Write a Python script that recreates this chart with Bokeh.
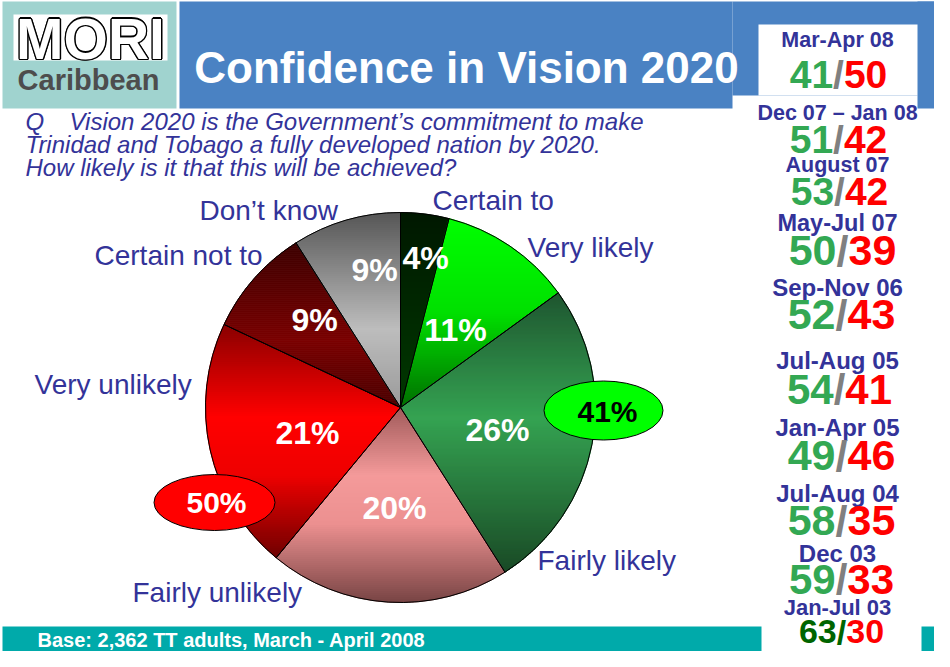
import numpy as np
from bokeh.plotting import figure
from bokeh.models import Range1d, ColumnDataSource
from bokeh.core.properties import value
from bokeh.embed import file_html
from bokeh.resources import INLINE

# ---------------- data ----------------
categories = ["Certain to", "Very likely", "Fairly likely", "Fairly unlikely",
              "Very unlikely", "Certain not to", "Don\u2019t know"]
shares = [4, 11, 26, 20, 21, 9, 9]
likely_total = 41
unlikely_total = 50

periods = ["Mar-Apr 08", "Dec 07 \u2013 Jan 08", "August 07", "May-Jul 07", "Sep-Nov 06",
           "Jul-Aug 05", "Jan-Apr 05", "Jul-Aug 04", "Dec 03", "Jan-Jul 03"]
likely_hist = [41, 51, 53, 50, 52, 54, 49, 58, 59, 63]
unlikely_hist = [50, 42, 42, 39, 43, 41, 46, 35, 33, 30]

title = "Confidence in Vision 2020"
question = ["Vision 2020 is the Government\u2019s commitment to make",
            "Trinidad and Tobago a fully developed nation by 2020.",
            "How likely is it that this will be achieved?"]
base_note = "Base: 2,362 TT adults, March - April 2008"

# ---------------- layout helpers ----------------
W, H = 934, 651
def Y(r):
    return 667 - r

FONT = value("Liberation Sans")
BLUE_TXT = "#333399"

p = figure(width=W, height=H, x_range=Range1d(8, 942), y_range=Range1d(8, 659),
           output_backend="svg", toolbar_location=None, min_border=0,
           x_axis_type=None, y_axis_type=None)
p.grid.visible = False
p.outline_line_color = None
p.background_fill_color = "white"
p.border_fill_color = "white"

def box(l, t, r, b, color):
    p.quad(left=l, right=r, top=Y(t), bottom=Y(b), fill_color=color, line_color=None)

# header
box(10, 9, 184, 116, "#a0d3cf")
box(21, 22, 175, 68, "white")
box(187, 9, 740, 116, "#4a82c3")
box(740, 9, 950, 103, "#4a82c3")
box(925, 9, 950, 116, "#4a82c3")
box(766, 32, 925, 103, "white")
# footer
box(10, 634, 769, 667, "#00aaaa")
box(929, 634, 950, 667, "#00aaaa")

# MORI outlined lettering (thick black rim + white face)
offs = [(-1.4, 0), (1.4, 0), (0, -1.4), (0, 1.4), (-1, -1), (1, 1), (-1, 1), (1, -1)]
p.text(x=[98 + dx for dx, dy in offs], y=[Y(46) + dy for dx, dy in offs], text=["MORI"] * len(offs),
       text_font=FONT, text_font_style="bold", text_font_size="57px", text_color="black",
       text_align="center", text_baseline="middle")
p.text(x=[98], y=[Y(46)], text=["MORI"], text_font=FONT, text_font_style="bold",
       text_font_size="57px", text_color="white", text_align="center", text_baseline="middle")
p.text(x=[96], y=[Y(87)], text=["Caribbean"], text_font=FONT, text_font_style="bold",
       text_font_size="29px", text_color="#4d4d4d", text_align="center", text_baseline="middle")
p.text(x=[474], y=[Y(75)], text=[title], text_font=FONT, text_font_style="bold",
       text_font_size="44px", text_color="white", text_align="center", text_baseline="middle")

# question
p.text(x=[33], y=[Y(129)], text=["Q"], text_font=FONT, text_font_style="italic",
       text_font_size="24px", text_color=BLUE_TXT, text_baseline="middle")
p.text(x=[77, 33, 33], y=[Y(129), Y(152), Y(175)], text=question, text_font=FONT,
       text_font_style="italic", text_font_size="24px", text_color=BLUE_TXT,
       text_baseline="middle")

p.text(x=[45], y=[Y(647)], text=[base_note], text_font=FONT, text_font_style="bold",
       text_font_size="20px", text_color="white", text_baseline="middle")

# ---------------- pie with vertical gradients ----------------
cx, cy, R = 408, Y(415), 195
stops = [
    [(0, "#001800"), (1, "#003800")],
    [(0, "#00ff00"), (0.5, "#00e000"), (1, "#007000")],
    [(0, "#1f5530"), (0.45, "#35a352"), (1, "#1a4a26")],
    [(0, "#a05a5a"), (0.35, "#f49a9a"), (0.6, "#ec9090"), (1, "#784444")],
    [(0, "#8a0000"), (0.4, "#ff0000"), (0.65, "#ee0000"), (1, "#700000")],
    [(0, "#3c0000"), (0.6, "#7a0000"), (1, "#4a0000")],
    [(0, "#555555"), (0.6, "#bdbdbd"), (1, "#9a9a9a")],
]

def hex2rgb(h):
    return np.array([int(h[i:i + 2], 16) for i in (1, 3, 5)], dtype=float)

def interp(st, t):
    for (t0, c0), (t1, c1) in zip(st[:-1], st[1:]):
        if t <= t1:
            f = 0 if t1 == t0 else (t - t0) / (t1 - t0)
            c = hex2rgb(c0) * (1 - f) + hex2rgb(c1) * f
            return "#%02x%02x%02x" % tuple(int(round(v)) for v in c)
    return st[-1][1]

def clip_half(pts, keep, inter):
    out = []
    n = len(pts)
    for i in range(n):
        a, b = pts[i], pts[(i + 1) % n]
        ka, kb = keep(a), keep(b)
        if ka:
            out.append(a)
        if ka != kb:
            out.append(inter(a, b))
    return out

def clip_band(pts, y0, y1):
    def ix(level):
        def f(a, b):
            t = (level - a[1]) / (b[1] - a[1])
            return (a[0] + t * (b[0] - a[0]), level)
        return f
    pts = clip_half(pts, lambda q: q[1] >= y0, ix(y0))
    if not pts:
        return pts
    return clip_half(pts, lambda q: q[1] <= y1, ix(y1))

cum = np.concatenate([[0], np.cumsum(shares)]) / sum(shares)
start_ang = np.pi / 2 - 2 * np.pi * cum[:-1]
end_ang = np.pi / 2 - 2 * np.pi * cum[1:]

bx, by, bc = [], [], []
for i in range(len(shares)):
    th = np.linspace(start_ang[i], end_ang[i], 80)
    poly = [(cx, cy)] + [(cx + R * np.cos(a), cy + R * np.sin(a)) for a in th]
    ys = [q[1] for q in poly]
    top, bot = max(ys), min(ys)
    yb = top
    while yb > bot:
        y0 = max(yb - 2, bot)
        piece = clip_band(poly, y0, yb)
        if len(piece) >= 3:
            t = (top - (y0 + yb) / 2) / (top - bot)
            bx.append([q[0] for q in piece])
            by.append([q[1] for q in piece])
            bc.append(interp(stops[i], t))
        yb -= 2
p.patches(xs=bx, ys=by, fill_color=bc, line_color=bc, line_width=1)

p.wedge(x=cx, y=cy, radius=R, start_angle=list(start_ang), end_angle=list(end_ang),
        direction="clock", fill_alpha=0, line_color="black", line_width=1)

# percent labels
pct_pos = [(433, 265), (463, 337), (505, 437), (402, 515), (315, 440), (322, 327), (382, 277)]
p.text(x=[q[0] for q in pct_pos], y=[Y(q[1]) for q in pct_pos],
       text=["%d%%" % s for s in shares], text_font=FONT, text_font_style="bold",
       text_font_size="32px", text_color="white", text_align="center", text_baseline="middle")

# category labels
lab_pos = [(440, 208), (535, 255), (545, 568), (140, 600), (42, 392), (102, 263), (207, 218)]
p.text(x=[q[0] for q in lab_pos], y=[Y(q[1]) for q in lab_pos], text=categories,
       text_font=FONT, text_font_size="28px", text_color=BLUE_TXT, text_baseline="middle")

# summary ellipses
p.ellipse(x=[611, 222], y=[Y(418), Y(510)], width=[119, 121], height=[59, 56],
          fill_color=["#00ff00", "#ff0000"], line_color="black", line_width=1)
p.text(x=[615, 224], y=[Y(419), Y(510)], text=["%d%%" % likely_total, "%d%%" % unlikely_total],
       text_font=FONT, text_font_style="bold", text_font_size="30px",
       text_color=["black", "white"], text_align="center", text_baseline="middle")

# ---------------- right-hand trend column ----------------
date_y = [47, 120, 172, 230, 295, 368, 435, 501, 561, 615]
date_sz = [21.5, 21.5, 21.5, 23.5, 24, 24, 24, 24, 24, 22]
num_y = [82, 147, 199, 258, 322, 397, 463, 528, 587, 639]
num_sz = [39, 39, 39, 43, 43, 42, 43, 43, 42, 34]
num_cx = [846, 846, 847, 850, 849, 847, 849, 849, 849, 849]

p.text(x=[845] * len(periods), y=[Y(v) for v in date_y], text=periods, text_font=FONT,
       text_font_style="bold", text_font_size=["%spx" % s for s in date_sz],
       text_color=BLUE_TXT, text_align="center", text_baseline="middle")

green = ["#33a853"] * (len(periods) - 1) + ["#006400"]
slash_c = ["#808080"] * (len(periods) - 1) + ["#006400"]
half = [s * 0.139 for s in num_sz]
src_l = ColumnDataSource(dict(x=[c - h for c, h in zip(num_cx, half)], y=[Y(v) for v in num_y],
                              t=[str(v) for v in likely_hist], s=["%dpx" % s for s in num_sz], c=green))
src_s = ColumnDataSource(dict(x=num_cx, y=[Y(v) for v in num_y], t=["/"] * len(periods),
                              s=["%dpx" % s for s in num_sz], c=slash_c))
src_r = ColumnDataSource(dict(x=[c + h for c, h in zip(num_cx, half)], y=[Y(v) for v in num_y],
                              t=[str(v) for v in unlikely_hist], s=["%dpx" % s for s in num_sz],
                              c=["#ff0000"] * len(periods)))
for src, align in ((src_l, "right"), (src_s, "center"), (src_r, "left")):
    p.text(x="x", y="y", text="t", source=src, text_font=FONT, text_font_style="bold",
           text_font_size="s", text_color="c", text_align=align, text_baseline="middle")

open("out.html", "w").write(file_html(p, INLINE))
